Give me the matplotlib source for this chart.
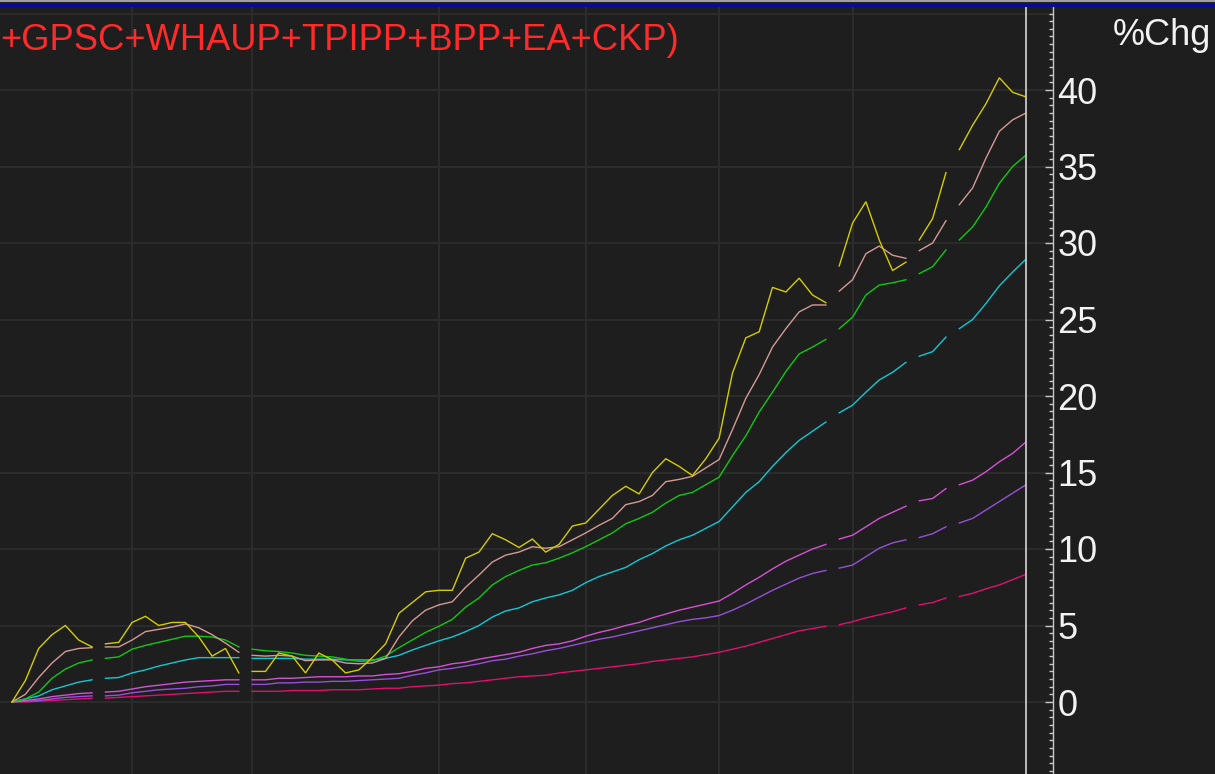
import matplotlib
matplotlib.use('Agg')
import matplotlib.pyplot as plt
import numpy as np
from matplotlib.lines import Line2D
from matplotlib.ticker import MultipleLocator

# ---------------- data ----------------
title_text = "+GPSC+WHAUP+TPIPP+BPP+EA+CKP)"
axis_label = "%Chg"
ytick_values = [0, 5, 10, 15, 20, 25, 30, 35, 40]
grid_levels = [0, 5, 10, 15, 20, 25, 30, 35, 40, 45]
break_after = [6, 17, 61, 67, 70]          # no segment drawn after these points
month_start_idx = [9, 18, 32, 43, 53, 63]  # vertical grid positions

yellow = [0.0, 1.4, 3.5, 4.4, 5.0, 4.05, 3.6,
          3.8, 3.9, 5.2, 5.6, 5.0, 5.2, 5.2, 4.25, 3.0, 3.5, 1.9,
          2.0, 2.0, 3.2, 3.0, 1.9, 3.2, 2.75, 1.9, 2.1, 2.9, 3.8, 5.8, 6.5, 7.2, 7.3, 7.3,
          9.4, 9.8, 11.0, 10.6, 10.1, 10.65, 9.8, 10.3, 11.5, 11.7, 12.6, 13.5, 14.1, 13.6,
          15.0, 15.9, 15.4, 14.8, 15.9, 17.25, 21.5, 23.8, 24.2, 27.1, 26.8, 27.7, 26.6, 26.1,
          28.5, 31.3, 32.7, 30.2, 28.2, 28.75,
          30.2, 31.6, 34.6,
          36.1, 37.7, 39.1, 40.8, 39.85, 39.55]
pink = [0.0, 0.5, 1.6, 2.55, 3.3, 3.5, 3.55,
        3.6, 3.6, 4.05, 4.6, 4.75, 4.9, 5.1, 4.85, 4.4, 3.85, 3.25,
        3.05, 3.0, 3.05, 3.0, 2.7, 2.75, 2.75, 2.55, 2.5, 2.55, 2.85, 4.25, 5.3, 6.0, 6.35, 6.55,
        7.5, 8.3, 9.15, 9.6, 9.8, 10.15, 10.05, 10.15, 10.6, 11.05, 11.55, 12.0, 12.9, 13.1,
        13.5, 14.4, 14.55, 14.75, 15.3, 15.85, 17.8, 19.85, 21.4, 23.2, 24.4, 25.5, 25.95, 25.95,
        26.85, 27.6, 29.3, 29.8, 29.2, 29.0,
        29.5, 30.0, 31.45,
        32.5, 33.6, 35.55, 37.3, 38.05, 38.5]
green = [0.0, 0.2, 0.65, 1.55, 2.15, 2.55, 2.75,
         2.85, 2.95, 3.45, 3.7, 3.9, 4.1, 4.3, 4.3, 4.25, 4.05, 3.6,
         3.45, 3.35, 3.3, 3.2, 3.05, 3.0, 2.95, 2.8, 2.65, 2.7, 3.0, 3.55, 4.05, 4.55, 4.95, 5.4,
         6.2, 6.8, 7.65, 8.2, 8.6, 8.95, 9.1, 9.4, 9.75, 10.15, 10.6, 11.05, 11.65, 12.0,
         12.4, 13.0, 13.5, 13.7, 14.2, 14.7, 16.1, 17.4, 18.95, 20.25, 21.6, 22.75, 23.2, 23.7,
         24.4, 25.15, 26.6, 27.25, 27.4, 27.6,
         28.0, 28.45, 29.55,
         30.2, 31.05, 32.35, 33.9, 35.0, 35.75]
cyan = [0.0, 0.2, 0.4, 0.8, 1.05, 1.3, 1.45,
        1.55, 1.6, 1.9, 2.1, 2.35, 2.55, 2.75, 2.9, 2.9, 2.9, 2.9,
        2.85, 2.85, 2.85, 2.85, 2.8, 2.8, 2.8, 2.75, 2.75, 2.75, 2.85, 3.05, 3.4, 3.7, 4.0, 4.25,
        4.6, 5.0, 5.55, 5.95, 6.15, 6.55, 6.8, 7.0, 7.3, 7.8, 8.2, 8.5, 8.8, 9.3,
        9.7, 10.2, 10.6, 10.9, 11.35, 11.8, 12.75, 13.7, 14.4, 15.4, 16.3, 17.1, 17.7, 18.3,
        18.9, 19.4, 20.25, 21.05, 21.55, 22.2,
        22.6, 22.9, 23.85,
        24.4, 25.0, 26.05, 27.2, 28.1, 28.95]
magenta = [0.0, 0.1, 0.2, 0.35, 0.45, 0.55, 0.6,
           0.65, 0.7, 0.85, 1.0, 1.1, 1.2, 1.3, 1.35, 1.4, 1.45, 1.45,
           1.45, 1.45, 1.55, 1.55, 1.6, 1.65, 1.65, 1.65, 1.7, 1.7, 1.8, 1.85, 2.0, 2.2, 2.3, 2.5,
           2.6, 2.8, 2.95, 3.1, 3.25, 3.5, 3.7, 3.8, 4.0, 4.3, 4.55, 4.75, 5.0, 5.2,
           5.5, 5.75, 6.0, 6.2, 6.4, 6.6, 7.1, 7.65, 8.15, 8.7, 9.2, 9.6, 10.0, 10.3,
           10.65, 10.9, 11.45, 12.0, 12.4, 12.8,
           13.15, 13.3, 13.95,
           14.2, 14.5, 15.05, 15.7, 16.25, 17.0]
purple = [0.0, 0.05, 0.1, 0.2, 0.3, 0.35, 0.4,
          0.4, 0.45, 0.6, 0.7, 0.8, 0.85, 0.9, 1.0, 1.05, 1.15, 1.15,
          1.15, 1.15, 1.25, 1.25, 1.3, 1.3, 1.35, 1.35, 1.4, 1.45, 1.5, 1.55, 1.75, 1.9, 2.1, 2.2,
          2.35, 2.5, 2.7, 2.8, 3.0, 3.15, 3.35, 3.5, 3.7, 3.9, 4.1, 4.25, 4.45, 4.65,
          4.85, 5.05, 5.25, 5.4, 5.5, 5.65, 6.0, 6.4, 6.85, 7.3, 7.7, 8.1, 8.4, 8.6,
          8.75, 8.95, 9.5, 10.05, 10.4, 10.6,
          10.75, 11.0, 11.45,
          11.7, 12.0, 12.55, 13.1, 13.65, 14.2]
crimson = [0.0, 0.0, 0.05, 0.1, 0.15, 0.2, 0.25,
           0.25, 0.3, 0.35, 0.4, 0.45, 0.5, 0.55, 0.6, 0.65, 0.7, 0.7,
           0.7, 0.7, 0.7, 0.75, 0.75, 0.75, 0.8, 0.8, 0.8, 0.85, 0.9, 0.9, 1.0, 1.05, 1.1, 1.2,
           1.25, 1.35, 1.45, 1.55, 1.65, 1.7, 1.75, 1.9, 2.0, 2.1, 2.2, 2.3, 2.4, 2.5,
           2.65, 2.75, 2.85, 2.95, 3.1, 3.25, 3.45, 3.65, 3.9, 4.15, 4.4, 4.65, 4.8, 4.95,
           5.05, 5.25, 5.5, 5.7, 5.9, 6.15,
           6.35, 6.5, 6.8,
           6.9, 7.1, 7.4, 7.65, 8.0, 8.35]

series = [
    (crimson, '#e0106e'),
    (purple, '#9650d8'),
    (magenta, '#d650d6'),
    (cyan, '#10c8d4'),
    (green, '#10c810'),
    (pink, '#d49a94'),
    (yellow, '#d4cc00'),
]

# ---------------- figure ----------------
BG = '#1e1e1e'
GRID = '#2c2c2c'
W, H = 1215, 774
STEP = (1026 - 12) / 76.0
UNIT = 15.3

fig = plt.figure(figsize=(W / 100, H / 100), dpi=100, facecolor=BG)
ax = fig.add_axes([0, 0, 1053 / W, (H - 6) / H], facecolor=BG)

ax.set_xlim(-12 / STEP, (1053 - 12) / STEP)
ax.set_ylim(-(H - 702) / UNIT, (702 - 6) / UNIT)

for g in grid_levels:
    ax.axhline(g, color=GRID, lw=1.4, zorder=0)
for m in month_start_idx:
    ax.axvline(m, color=GRID, lw=1.4, zorder=0)

n = len(yellow)
idx = np.arange(n)
starts = [0] + [b + 1 for b in break_after]
ends = [b + 1 for b in break_after] + [n]
for vals, col in series:
    arr = np.array(vals, dtype=float)
    for s, e in zip(starts, ends):
        ax.plot(idx[s:e], arr[s:e], color=col, lw=1.0, solid_joinstyle='miter', zorder=3)

# cursor line at last bar
ax.axvline(n - 1, color='#c8c8c8', lw=1.3, zorder=4)

for sp in ['top', 'left', 'bottom']:
    ax.spines[sp].set_visible(False)
ax.spines['right'].set_color('#c8c8c8')
ax.spines['right'].set_linewidth(1.0)

ax.set_xticks([])
ax.yaxis.tick_right()
ax.set_yticks(ytick_values)
ax.set_yticklabels([str(v) for v in ytick_values])
ax.yaxis.set_minor_locator(MultipleLocator(0.5))
ax.tick_params(axis='y', which='major', direction='in', length=6, width=1,
               color='#c8c8c8', labelcolor='#f2f2f2', labelsize=26, pad=3)
ax.tick_params(axis='y', which='minor', direction='in', length=3, width=1,
               color='#c8c8c8')
for lab in ax.get_yticklabels():
    lab.set_family(['Liberation Sans', 'DejaVu Sans'])

# top border lines
fig.add_artist(Line2D([0, 1], [1 - 1 / H, 1 - 1 / H], transform=fig.transFigure,
                      color='#a0a0a0', lw=1.5))
fig.add_artist(Line2D([0, 1], [1 - 4.5 / H, 1 - 4.5 / H], transform=fig.transFigure,
                      color='#0a0a9a', lw=2.2))

fig.text(0, 1 - 50 / H, title_text, color='#ff2a2a', fontsize=26.2,
         family=['Liberation Sans Narrow', 'Liberation Sans', 'DejaVu Sans'],
         ha='left', va='baseline')
fig.text(1113 / W, 1 - 45 / H, axis_label, color='#f2f2f2', fontsize=26,
         family=['Liberation Sans', 'DejaVu Sans'], ha='left', va='baseline')

fig.savefig('out.png', dpi=100, facecolor=BG)
